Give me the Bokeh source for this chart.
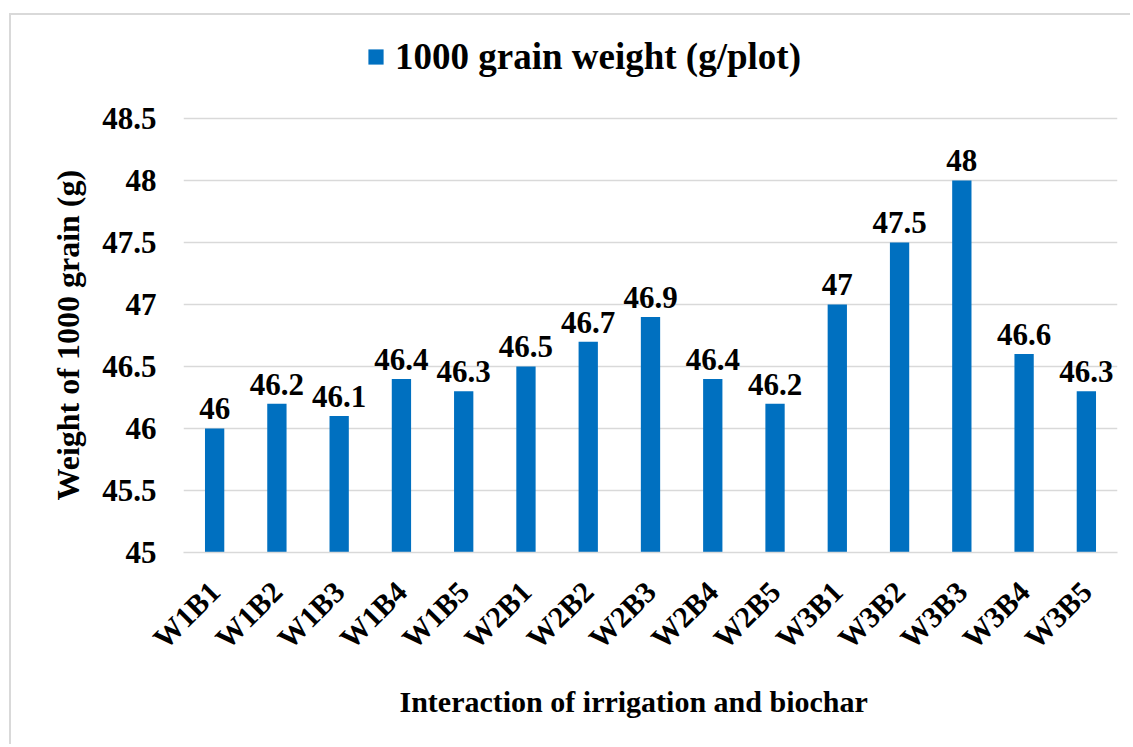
import math
from bokeh.plotting import figure
from bokeh.models import ColumnDataSource, FixedTicker, Legend, LegendItem, Range1d, Title
from bokeh.core.properties import value
from bokeh.embed import file_html
from bokeh.resources import INLINE

categories = ["W1B1", "W1B2", "W1B3", "W1B4", "W1B5",
              "W2B1", "W2B2", "W2B3", "W2B4", "W2B5",
              "W3B1", "W3B2", "W3B3", "W3B4", "W3B5"]
weights = [46, 46.2, 46.1, 46.4, 46.3, 46.5, 46.7, 46.9, 46.4, 46.2, 47, 47.5, 48, 46.6, 46.3]
y_ticks = [45, 45.5, 46, 46.5, 47, 47.5, 48, 48.5]
y_tick_labels = ["45", "45.5", "46", "46.5", "47", "47.5", "48", "48.5"]
series_name = "1000 grain weight (g/plot)"
x_title = "Interaction of irrigation and biochar"
y_title = "Weight of 1000 grain (g)"

FONT = "Liberation Serif"
BLUE = "#0070C0"
GRID = "#D9D9D9"

src = ColumnDataSource(dict(
    cat=categories,
    val=weights,
    lab=[("%g" % v) for v in weights],
))

# y range extended above the top gridline to leave room for the legend
p = figure(x_range=categories, y_range=Range1d(45, 49.177),
           width=1121, height=731, output_backend="svg", toolbar_location=None,
           min_border_left=172, min_border_right=15, min_border_top=19, min_border_bottom=194)
p.styles = {"margin-left": "9px", "margin-top": "13px",
            "border-left": "2px solid #D9D9D9", "border-top": "2px solid #D9D9D9"}
p.outline_line_color = None
p.background_fill_color = "white"
p.border_fill_color = "white"

bars = p.vbar(x="cat", top="val", bottom=45, width=0.31, source=src,
              fill_color=BLUE, line_color=None)

p.text(x="cat", y="val", text="lab", source=src, text_align="center",
       text_baseline="bottom", y_offset=-9, text_font=value(FONT),
       text_font_style="bold", text_font_size="31px", text_color="black")

# axes
p.xgrid.grid_line_color = None
p.ygrid.grid_line_color = GRID
p.ygrid.grid_line_width = 1.5
p.ygrid.ticker = FixedTicker(ticks=y_ticks)
p.yaxis.ticker = FixedTicker(ticks=y_ticks)
p.yaxis.major_label_overrides = {t: l for t, l in zip(y_ticks, y_tick_labels)}
p.yaxis.axis_line_color = None
p.yaxis.major_tick_line_color = None
p.yaxis.minor_tick_line_color = None
p.yaxis.major_tick_out = 0
p.yaxis.major_tick_in = 0
p.yaxis.major_label_standoff = 27
p.yaxis.major_label_text_font = FONT
p.yaxis.major_label_text_font_style = "bold"
p.yaxis.major_label_text_font_size = "31px"
p.yaxis.major_label_text_color = "black"

yt = Title(text=y_title, align="left", offset=52, standoff=28,
           text_font=FONT, text_font_style="bold", text_font_size="32px",
           text_color="black")
p.add_layout(yt, "left")

p.xaxis.axis_line_color = GRID
p.xaxis.axis_line_width = 1.5
p.xaxis.major_tick_line_color = None
p.xaxis.minor_tick_line_color = None
p.xaxis.major_tick_out = 0
p.xaxis.major_tick_in = 0
p.xaxis.major_label_orientation = math.pi / 4
p.xaxis.major_label_standoff = 34
p.xaxis.major_label_text_font = FONT
p.xaxis.major_label_text_font_style = "bold"
p.xaxis.major_label_text_font_size = "30px"
p.xaxis.major_label_text_color = "black"

xt = Title(text=x_title, align="left", offset=216, standoff=26,
           text_font=FONT, text_font_style="bold", text_font_size="30px",
           text_color="black")
p.add_layout(xt, "below")

legend = Legend(items=[LegendItem(label=series_name, renderers=[bars])],
                location=(183, 474), orientation="horizontal")
legend.label_text_font = FONT
legend.label_text_font_style = "bold"
legend.label_text_font_size = "37px"
legend.label_text_color = "black"
legend.glyph_width = 19
legend.glyph_height = 19
legend.label_standoff = 10
legend.border_line_color = None
legend.background_fill_alpha = 0
legend.margin = 0
legend.padding = 0
p.add_layout(legend, "center")

open("out.html", "w").write(file_html(p, INLINE))
